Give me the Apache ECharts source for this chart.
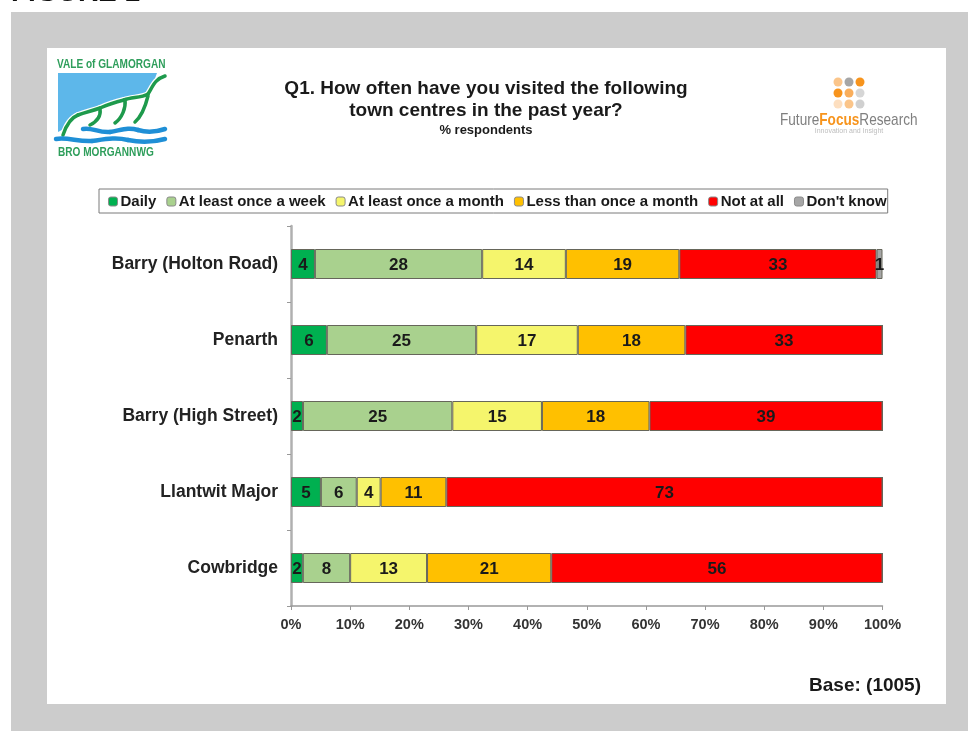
<!DOCTYPE html>
<html>
<head>
<meta charset="utf-8">
<style>html,body{margin:0;padding:0;background:#fff}#chart{width:971px;height:731px}</style>
<script src="https://cdn.jsdelivr.net/npm/echarts@6/dist/echarts.min.js"></script>
</head>
<body>
<div id="chart"></div>
<script>
const towns = ['Barry (Holton Road)', 'Penarth', 'Barry (High Street)', 'Llantwit Major', 'Cowbridge'];
const frequencyNames = ['Daily', 'At least once a week', 'At least once a month', 'Less than once a month', 'Not at all', "Don't know"];
const daily = [4, 6, 2, 5, 2];
const weekly = [28, 25, 25, 6, 8];
const monthly = [14, 17, 15, 4, 13];
const lessOften = [19, 18, 18, 11, 21];
const notAtAll = [33, 33, 39, 73, 56];
const dontKnow = [1, 0, 0, 0, 0];
const frequencyColors = ['#00B050', '#A9D18E', '#F5F56C', '#FFC000', '#FF0000', '#A6A6A6'];
const percentTicks = [0, 10, 20, 30, 40, 50, 60, 70, 80, 90, 100];

const answers = [daily, weekly, monthly, lessOften, notAtAll, dontKnow];
// Each bar is a 100% stack: rounded answers are scaled to the row total.
const rowTotals = towns.map((_, row) => answers.reduce((sum, a) => sum + a[row], 0));

const LABEL_FONT = 'Liberation Sans';

const series = answers.map((values, i) => ({
  name: frequencyNames[i],
  type: 'bar',
  stack: 'share',
  barWidth: 30,
  itemStyle: { color: frequencyColors[i], borderColor: '#66665a', borderWidth: 1 },
  label: {
    show: true,
    position: 'inside',
    offset: [0, 1],
    fontFamily: LABEL_FONT,
    fontWeight: 'bold',
    fontSize: 17,
    color: '#1a1a1a',
    formatter: p => (values[p.dataIndex] > 0 ? String(values[p.dataIndex]) : '')
  },
  data: values.map((v, row) => v / rowTotals[row] * 100)
}));

// Chains of cubic segments used for the crest: [x0, y0, c1x, c1y, c2x, c2y, x1, y1].
const curve = (c, stroke, lineWidth) => ({
  type: 'bezierCurve',
  silent: true,
  shape: { x1: c[0], y1: c[1], cpx1: c[2], cpy1: c[3], cpx2: c[4], cpy2: c[5], x2: c[6], y2: c[7] },
  style: { fill: 'none', stroke, lineWidth, lineCap: 'round' }
});
const cliffTop = [
  [63, 135, 66, 126, 70, 118, 78, 115],
  [78, 115, 86, 112, 92, 111, 100, 108],
  [100, 108, 109, 104, 116, 102, 124, 100],
  [124, 100, 132, 97, 141, 98, 148, 94],
  [148, 94, 153, 86, 155, 79, 165, 76]
];
const cliffFaces = [
  [100, 109, 101, 116, 98, 121, 90, 125],
  [125, 100, 126, 108, 122, 118, 115, 123],
  [148, 96, 146, 104, 142, 116, 135, 122]
];
const waves = [
  [83, 129, 92, 127, 98, 133, 110, 132],
  [110, 132, 122, 130, 128, 127, 138, 130],
  [138, 130, 148, 133, 156, 132, 165, 129],
  [56, 139, 68, 137, 78, 142, 92, 141],
  [92, 141, 106, 139, 116, 137, 128, 140],
  [128, 140, 142, 143, 154, 142, 165, 139]
];

// Page furniture: grey panel, white card, heading and the two logos.
const furniture = [
  { type: 'rect', silent: true, z: -3, shape: { x: 11, y: 12, width: 957, height: 719 }, style: { fill: '#CCCCCC' } },
  { type: 'rect', silent: true, z: -2, shape: { x: 47, y: 48, width: 899, height: 656 }, style: { fill: '#FFFFFF' } },
  { type: 'text', silent: true, x: 11, y: -21, style: { text: 'FIGURE 1', fill: '#111', font: 'bold 28px "Liberation Sans"' } },
  { type: 'text', silent: true, x: 921, y: 676, style: { text: 'Base: (1005)', fill: '#1a1a1a', align: 'right', font: 'bold 19px "Liberation Sans"' } },

  // Vale of Glamorgan crest
  { type: 'text', silent: true, x: 57, y: 59, scaleX: 0.84, style: { text: 'VALE of GLAMORGAN', fill: '#2E9E5B', font: 'bold 12px "Liberation Sans"' } },
  { type: 'polygon', silent: true, shape: { points: [[58, 73], [157, 73], [150, 92], [124, 100], [100, 108], [76, 115], [66, 128], [58, 132]] }, style: { fill: '#5DB7EA' } },
  ...cliffTop.map(c => curve(c, '#FFFFFF', 6)),
  ...cliffTop.map(c => curve(c, '#1E9A4C', 3.5)),
  ...cliffFaces.map(c => curve(c, '#1E9A4C', 3.5)),
  ...waves.map(c => curve(c, '#1F8FD6', 4.5)),
  { type: 'text', silent: true, x: 58, y: 147, scaleX: 0.84, style: { text: 'BRO MORGANNWG', fill: '#2E9E5B', font: 'bold 12px "Liberation Sans"' } },

  // Future Focus Research mark
  ...[
    [838, 82, '#FBC58A'], [849, 82, '#A6A6A6'], [860, 82, '#F7941D'],
    [838, 93, '#F7941D'], [849, 93, '#F9AE5C'], [860, 93, '#D6D6D6'],
    [838, 104, '#FDDFC0'], [849, 104, '#FBC58A'], [860, 104, '#D0D0D0']
  ].map(([cx, cy, fill]) => ({ type: 'circle', silent: true, shape: { cx, cy, r: 4.5 }, style: { fill } })),
  {
    type: 'text', silent: true, x: 780, y: 112, scaleX: 0.8, style: {
      rich: {
        a: { fill: '#7f7f7f', font: '17px "Liberation Sans"' },
        b: { fill: '#F7941D', font: 'bold 17px "Liberation Sans"' }
      },
      text: '{a|Future}{b|Focus}{a|Research}'
    }
  },
  { type: 'text', silent: true, x: 849, y: 128, style: { text: 'Innovation and Insight', fill: '#bdbdbd', align: 'center', font: '7px "Liberation Sans"' } }
];

const chart = echarts.init(document.getElementById('chart'), null, { renderer: 'canvas' });
chart.setOption({
  animation: false,
  backgroundColor: '#FFFFFF',
  title: {
    text: 'Q1. How often have you visited the following\ntown centres in the past year?',
    subtext: '% respondents',
    left: 486,
    top: 78,
    textAlign: 'center',
    itemGap: 2,
    padding: 0,
    textStyle: { fontFamily: LABEL_FONT, fontWeight: 'bold', fontSize: 19, lineHeight: 22, color: '#1a1a1a' },
    subtextStyle: { fontFamily: LABEL_FONT, fontWeight: 'bold', fontSize: 13, color: '#1a1a1a' }
  },
  legend: {
    data: frequencyNames,
    left: 99,
    top: 189,
    orient: 'horizontal',
    itemWidth: 9,
    itemHeight: 9,
    itemGap: 10,
    padding: [5, 1, 4, 9],
    borderColor: '#7a7a7a',
    borderWidth: 1,
    icon: 'roundRect',
    selectedMode: false,
    itemStyle: { borderColor: '#8a8a8a', borderWidth: 1 },
    textStyle: { fontFamily: LABEL_FONT, fontWeight: 'bold', fontSize: 15, color: '#1a1a1a', padding: [0, 0, 0, -2] }
  },
  grid: { left: 291, top: 226, width: 591.5, height: 380, containLabel: false },
  xAxis: {
    type: 'value',
    min: 0,
    max: 100,
    interval: 10,
    splitLine: { show: false },
    axisLine: { show: true, lineStyle: { color: '#999', width: 1.5 } },
    axisTick: { show: true, length: 4, lineStyle: { color: '#999' } },
    axisLabel: {
      margin: 11,
      fontFamily: LABEL_FONT,
      fontWeight: 'bold',
      fontSize: 14.5,
      color: '#333',
      formatter: v => percentTicks.includes(v) ? v + '%' : ''
    }
  },
  yAxis: {
    type: 'category',
    inverse: true,
    data: towns,
    axisLine: { show: true, lineStyle: { color: '#b0b0b0', width: 2.5 } },
    axisTick: { show: true, length: 4, lineStyle: { color: '#999' } },
    axisLabel: {
      margin: 13,
      padding: [2, 0, 0, 0],
      fontFamily: LABEL_FONT,
      fontWeight: 'bold',
      fontSize: 17.5,
      color: '#222'
    }
  },
  series,
  graphic: { elements: furniture }
});
</script>
</body>
</html>
